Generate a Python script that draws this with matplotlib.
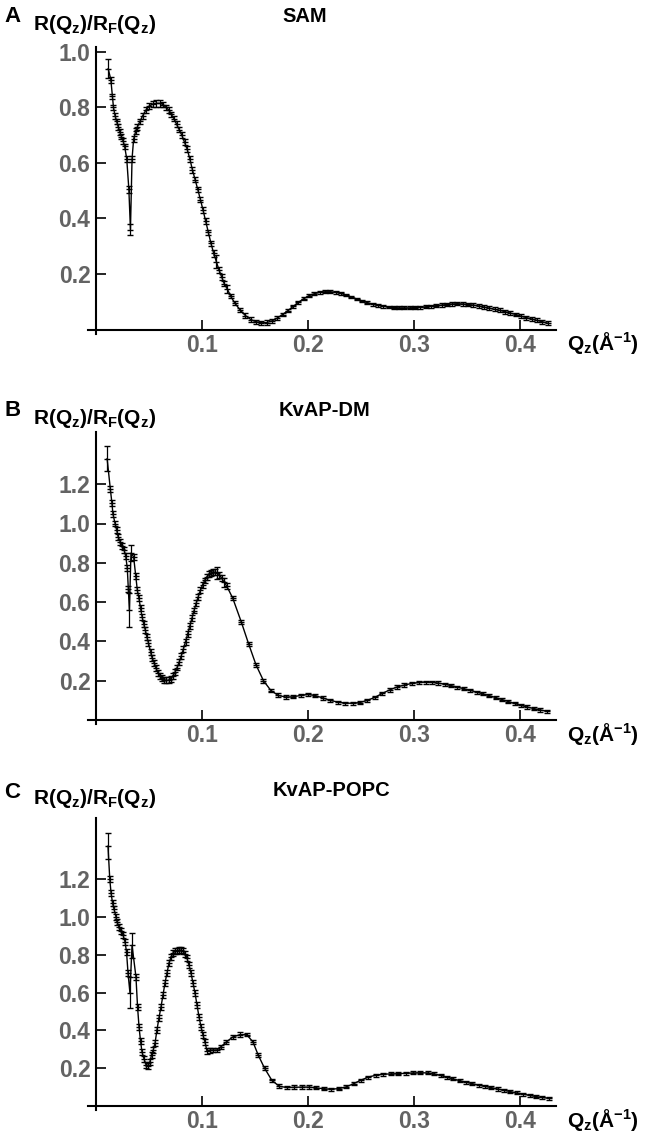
import numpy as np
from matplotlib import pyplot as plt

plt.rcParams['font.family'] = 'Liberation Sans'
plt.rcParams['mathtext.fontset'] = 'custom'
plt.rcParams['mathtext.bf'] = 'Liberation Sans:bold'
plt.rcParams['mathtext.rm'] = 'Liberation Sans'
plt.rcParams['mathtext.it'] = 'Liberation Sans:italic'

# ---- SAM ----
q_sam = [0.0115, 0.0140, 0.0155, 0.0165, 0.0180, 0.0195, 0.0210, 0.0225, 0.0240, 0.0255,
         0.0270, 0.0290, 0.0310, 0.0325, 0.0340, 0.0355, 0.0375, 0.0390, 0.0415, 0.0440,
         0.0470, 0.0500, 0.0535, 0.0570, 0.0605, 0.0635, 0.0660, 0.0690, 0.0710, 0.0735,
         0.0760, 0.0785, 0.0810, 0.0835, 0.0860, 0.0885, 0.0910, 0.0935, 0.0960, 0.0985,
         0.1010, 0.1035, 0.1060, 0.1085, 0.1110, 0.1135, 0.1160, 0.1185, 0.1210, 0.1240,
         0.1270, 0.1310, 0.1360, 0.1410, 0.1460, 0.1510, 0.1560, 0.1610, 0.1660, 0.1710,
         0.1760, 0.1810, 0.1860, 0.1910, 0.1960, 0.2010, 0.2060, 0.2110, 0.2160, 0.2210,
         0.2260, 0.2310, 0.2360, 0.2410, 0.2460, 0.2510, 0.2560, 0.2610, 0.2660, 0.2710,
         0.2760, 0.2810, 0.2860, 0.2910, 0.2960, 0.3010, 0.3060, 0.3110, 0.3160, 0.3210,
         0.3260, 0.3310, 0.3360, 0.3410, 0.3460, 0.3510, 0.3560, 0.3610, 0.3660, 0.3710,
         0.3760, 0.3810, 0.3860, 0.3910, 0.3960, 0.4010, 0.4060, 0.4110, 0.4160, 0.4210,
         0.4260]
r_sam = [0.940, 0.900, 0.840, 0.800, 0.770, 0.750, 0.730, 0.712, 0.695, 0.680,
         0.660, 0.615, 0.505, 0.360, 0.615, 0.686, 0.715, 0.730, 0.750, 0.770,
         0.790, 0.805, 0.812, 0.815, 0.815, 0.810, 0.800, 0.790, 0.775, 0.760,
         0.740, 0.720, 0.700, 0.675, 0.650, 0.615, 0.575, 0.540, 0.505, 0.468,
         0.430, 0.390, 0.350, 0.310, 0.275, 0.245, 0.215, 0.190, 0.165, 0.145,
         0.120, 0.095, 0.070, 0.050, 0.036, 0.028, 0.024, 0.025, 0.031, 0.041,
         0.054, 0.068, 0.083, 0.098, 0.111, 0.122, 0.129, 0.134, 0.136, 0.136,
         0.134, 0.130, 0.124, 0.117, 0.110, 0.103, 0.097, 0.091, 0.087, 0.084,
         0.081, 0.079, 0.078, 0.078, 0.078, 0.079, 0.080, 0.082, 0.084, 0.086,
         0.088, 0.090, 0.092, 0.093, 0.092, 0.090, 0.088, 0.085, 0.081, 0.077,
         0.073, 0.069, 0.064, 0.059, 0.054, 0.048, 0.043, 0.038, 0.033, 0.028,
         0.023]
e_sam = [0.035, 0.010, 0.010, 0.010, 0.010, 0.010, 0.010, 0.010, 0.010, 0.010,
         0.010, 0.010, 0.012, 0.020, 0.010, 0.010, 0.010, 0.010, 0.010, 0.010,
         0.010, 0.010, 0.010, 0.012, 0.012, 0.010, 0.010, 0.010, 0.010, 0.010,
         0.010, 0.010, 0.010, 0.010, 0.010, 0.010, 0.010, 0.010, 0.010, 0.010,
         0.010, 0.010, 0.010, 0.010, 0.012, 0.022, 0.012, 0.010, 0.010, 0.014,
         0.008, 0.008, 0.008, 0.008, 0.008, 0.008, 0.008, 0.008, 0.008, 0.008,
         0.005, 0.005, 0.005, 0.005, 0.005, 0.005, 0.005, 0.005, 0.005, 0.005,
         0.005, 0.005, 0.005, 0.005, 0.005, 0.005, 0.005, 0.005, 0.005, 0.005,
         0.005, 0.005, 0.005, 0.005, 0.005, 0.005, 0.005, 0.005, 0.005, 0.005,
         0.006, 0.006, 0.006, 0.006, 0.006, 0.006, 0.006, 0.006, 0.006, 0.006,
         0.007, 0.007, 0.007, 0.007, 0.007, 0.007, 0.007, 0.007, 0.007, 0.007,
         0.007]

# ---- KvAP-DM ----
q_dm = [0.0105, 0.0135, 0.0150, 0.0160, 0.0180, 0.0195, 0.0210, 0.0230, 0.0245, 0.0265,
        0.0280, 0.0295, 0.0305, 0.0315, 0.0330, 0.0355, 0.0375, 0.0390, 0.0405, 0.0420,
        0.0435, 0.0450, 0.0465, 0.0480, 0.0495, 0.0515, 0.0530, 0.0550, 0.0565, 0.0585,
        0.0605, 0.0625, 0.0645, 0.0665, 0.0685, 0.0705, 0.0725, 0.0745, 0.0765, 0.0785,
        0.0805, 0.0825, 0.0845, 0.0865, 0.0885, 0.0905, 0.0925, 0.0945, 0.0965, 0.0985,
        0.1005, 0.1025, 0.1045, 0.1065, 0.1085, 0.1105, 0.1125, 0.1145, 0.1165, 0.1185,
        0.1210, 0.1235, 0.1290, 0.1370, 0.1440, 0.1510, 0.1580, 0.1650, 0.1720, 0.1790,
        0.1860, 0.1930, 0.2000, 0.2070, 0.2140, 0.2210, 0.2280, 0.2350, 0.2420, 0.2490,
        0.2560, 0.2630, 0.2700, 0.2770, 0.2840, 0.2910, 0.2980, 0.3050, 0.3110, 0.3170,
        0.3230, 0.3290, 0.3350, 0.3410, 0.3470, 0.3530, 0.3590, 0.3650, 0.3710, 0.3770,
        0.3830, 0.3890, 0.3950, 0.4010, 0.4070, 0.4130, 0.4190, 0.4250]
r_dm = [1.330, 1.176, 1.105, 1.048, 1.000, 0.967, 0.930, 0.905, 0.885, 0.865,
        0.835, 0.774, 0.667, 0.560, 0.850, 0.830, 0.733, 0.660, 0.620, 0.570,
        0.525, 0.490, 0.458, 0.423, 0.392, 0.346, 0.315, 0.290, 0.265, 0.240,
        0.225, 0.212, 0.205, 0.202, 0.202, 0.210, 0.224, 0.243, 0.267, 0.295,
        0.327, 0.362, 0.399, 0.438, 0.478, 0.518, 0.557, 0.594, 0.628, 0.660,
        0.687, 0.710, 0.728, 0.741, 0.749, 0.752, 0.752, 0.748, 0.738, 0.722,
        0.700, 0.680, 0.620, 0.500, 0.387, 0.280, 0.200, 0.150, 0.125, 0.117,
        0.118, 0.125, 0.130, 0.124, 0.112, 0.100, 0.091, 0.086, 0.085, 0.089,
        0.100, 0.115, 0.135, 0.153, 0.168, 0.178, 0.186, 0.191, 0.193, 0.192,
        0.188, 0.182, 0.175, 0.167, 0.159, 0.151, 0.142, 0.133, 0.124, 0.114,
        0.104, 0.094, 0.084, 0.074, 0.066, 0.058, 0.051, 0.045]
e_dm = [0.065, 0.015, 0.015, 0.015, 0.015, 0.015, 0.015, 0.015, 0.015, 0.015,
        0.015, 0.015, 0.015, 0.085, 0.040, 0.015, 0.015, 0.015, 0.015, 0.015,
        0.015, 0.015, 0.015, 0.015, 0.015, 0.015, 0.015, 0.015, 0.015, 0.015,
        0.015, 0.015, 0.015, 0.015, 0.015, 0.015, 0.015, 0.015, 0.015, 0.015,
        0.015, 0.015, 0.015, 0.015, 0.015, 0.015, 0.015, 0.015, 0.015, 0.015,
        0.015, 0.015, 0.015, 0.015, 0.015, 0.015, 0.015, 0.030, 0.015, 0.015,
        0.025, 0.015, 0.010, 0.010, 0.010, 0.010, 0.010, 0.010, 0.010, 0.010,
        0.008, 0.008, 0.008, 0.008, 0.008, 0.008, 0.008, 0.008, 0.008, 0.008,
        0.008, 0.008, 0.008, 0.008, 0.008, 0.008, 0.008, 0.008, 0.008, 0.008,
        0.008, 0.008, 0.008, 0.008, 0.008, 0.008, 0.008, 0.008, 0.008, 0.008,
        0.008, 0.008, 0.008, 0.008, 0.008, 0.008, 0.008, 0.008]

# ---- KvAP-POPC ----
q_popc = [0.0113, 0.0130, 0.0142, 0.0156, 0.0170, 0.0189, 0.0198, 0.0217, 0.0236, 0.0255,
          0.0274, 0.0288, 0.0302, 0.0320, 0.0340, 0.0377, 0.0392, 0.0406, 0.0420, 0.0434,
          0.0453, 0.0472, 0.0490, 0.0509, 0.0524, 0.0540, 0.0557, 0.0575, 0.0594, 0.0613,
          0.0632, 0.0651, 0.0670, 0.0689, 0.0708, 0.0726, 0.0745, 0.0764, 0.0783, 0.0802,
          0.0821, 0.0840, 0.0858, 0.0877, 0.0896, 0.0915, 0.0934, 0.0953, 0.0972, 0.0991,
          0.1009, 0.1028, 0.1047, 0.1075, 0.1105, 0.1140, 0.1175, 0.1230, 0.1290, 0.1360,
          0.1420, 0.1480, 0.1530, 0.1590, 0.1660, 0.1730, 0.1800, 0.1870, 0.1940, 0.2010,
          0.2080, 0.2150, 0.2220, 0.2290, 0.2360, 0.2430, 0.2500, 0.2570, 0.2640, 0.2710,
          0.2780, 0.2850, 0.2920, 0.2990, 0.3060, 0.3130, 0.3190, 0.3250, 0.3310, 0.3370,
          0.3430, 0.3490, 0.3550, 0.3610, 0.3670, 0.3730, 0.3790, 0.3850, 0.3910, 0.3970,
          0.4030, 0.4090, 0.4150, 0.4210, 0.4270]
r_popc = [1.375, 1.200, 1.127, 1.074, 1.042, 1.000, 0.974, 0.947, 0.926, 0.905,
          0.868, 0.815, 0.704, 0.600, 0.850, 0.683, 0.524, 0.418, 0.344, 0.286,
          0.249, 0.218, 0.213, 0.235, 0.270, 0.296, 0.333, 0.402, 0.466, 0.524,
          0.587, 0.651, 0.704, 0.757, 0.788, 0.810, 0.818, 0.822, 0.824, 0.824,
          0.818, 0.805, 0.783, 0.746, 0.704, 0.651, 0.598, 0.534, 0.471, 0.418,
          0.376, 0.339, 0.291, 0.295, 0.296, 0.296, 0.312, 0.339, 0.365, 0.378,
          0.378, 0.340, 0.270, 0.200, 0.135, 0.104, 0.098, 0.099, 0.100, 0.100,
          0.096, 0.091, 0.089, 0.092, 0.101, 0.118, 0.137, 0.153, 0.163, 0.168,
          0.170, 0.171, 0.173, 0.175, 0.176, 0.175, 0.170, 0.162, 0.152, 0.143,
          0.134, 0.126, 0.118, 0.111, 0.104, 0.097, 0.090, 0.083, 0.076, 0.069,
          0.063, 0.056, 0.050, 0.045, 0.041]
e_popc = [0.070, 0.016, 0.016, 0.016, 0.016, 0.016, 0.016, 0.016, 0.016, 0.016,
          0.016, 0.016, 0.016, 0.080, 0.065, 0.016, 0.016, 0.016, 0.016, 0.016,
          0.016, 0.016, 0.016, 0.016, 0.016, 0.016, 0.016, 0.016, 0.016, 0.016,
          0.016, 0.016, 0.016, 0.016, 0.016, 0.016, 0.016, 0.016, 0.016, 0.016,
          0.016, 0.016, 0.016, 0.016, 0.016, 0.016, 0.016, 0.016, 0.016, 0.016,
          0.016, 0.016, 0.016, 0.012, 0.012, 0.012, 0.012, 0.012, 0.012, 0.012,
          0.010, 0.010, 0.010, 0.010, 0.010, 0.010, 0.010, 0.010, 0.010, 0.010,
          0.008, 0.008, 0.008, 0.008, 0.008, 0.008, 0.008, 0.008, 0.008, 0.008,
          0.008, 0.008, 0.008, 0.008, 0.008, 0.008, 0.008, 0.008, 0.008, 0.008,
          0.008, 0.008, 0.008, 0.008, 0.008, 0.008, 0.008, 0.008, 0.008, 0.008,
          0.008, 0.008, 0.008, 0.008, 0.008]

xticks = [0.1, 0.2, 0.3, 0.4]
yticks_sam = [0.2, 0.4, 0.6, 0.8, 1.0]
yticks_kvap = [0.2, 0.4, 0.6, 0.8, 1.0, 1.2]

W, H = 646, 1132
fig = plt.figure(figsize=(W/100, H/100), dpi=100)

X0, XS = 96, 1060   # pixel of Q=0 and pixels per unit Q
XLIM = (-0.008, 0.434)
GRAY = '#636363'


def make_axes(y0, ys, ylim):
    left = X0 + XLIM[0]*XS
    right = X0 + XLIM[1]*XS
    top = y0 - ylim[1]*ys
    bottom = y0 - ylim[0]*ys
    return fig.add_axes([left/W, 1 - bottom/H, (right-left)/W, (bottom-top)/H])


def ftext(x, y, s, **kw):
    fig.text(x/W, 1 - y/H, s, **kw)


panels = [
    (q_sam, r_sam, e_sam, yticks_sam, 329.5, 277.5, (-0.015, 1.018), 'A', 'SAM', 305, 16),
    (q_dm, r_dm, e_dm, yticks_kvap, 720, 196.5, (-0.02, 1.466), 'B', 'KvAP-DM', 325, 410),
    (q_popc, r_popc, e_popc, yticks_kvap, 1106, 189, (-0.02, 1.524), 'C', 'KvAP-POPC', 331, 791),
]

for q, r, e, yt, y0, ys, ylim, letter, title, tx, ty in panels:
    ax = make_axes(y0, ys, ylim)
    ax.errorbar(q, r, yerr=e, color='black', lw=1.0, elinewidth=0.9,
                capsize=2.2, capthick=1.0, marker='_', ms=4.5, mew=1.0)
    ax.set_xlim(*XLIM)
    ax.set_ylim(*ylim)
    for s in ['top', 'right']:
        ax.spines[s].set_visible(False)
    ax.spines['left'].set_position(('data', 0))
    ax.spines['bottom'].set_position(('data', 0))
    ax.spines['left'].set_linewidth(1.5)
    ax.spines['bottom'].set_linewidth(1.5)
    ax.set_xticks(xticks)
    ax.set_xticklabels([f'{v:.1f}' for v in xticks])
    ax.set_yticks(yt)
    ax.set_yticklabels([f'{v:.1f}' for v in yt])
    ax.tick_params(direction='in', length=7, width=1.2, labelsize=16.5,
                   labelcolor=GRAY, color='black')
    ax.tick_params(axis='x', pad=3)
    ax.tick_params(axis='y', pad=4)
    for lab in ax.get_xticklabels() + ax.get_yticklabels():
        lab.set_fontweight('bold')
    ax.patch.set_alpha(0)

    ftext(4, ty + 1, letter, fontsize=16, fontweight='bold', va='center', ha='left')
    ftext(33, ty + 8, r'$\mathbf{R(Q_z)/R_F(Q_z)}$', fontsize=15, va='center', ha='left')
    ftext(tx, ty, title, fontsize=14.5, fontweight='bold', va='center', ha='center')
    ftext(567, y0 + 14, r'$\mathbf{Q_z(Å^{-1})}$', fontsize=15, va='center', ha='left')

fig.savefig('out.png', dpi=100)
